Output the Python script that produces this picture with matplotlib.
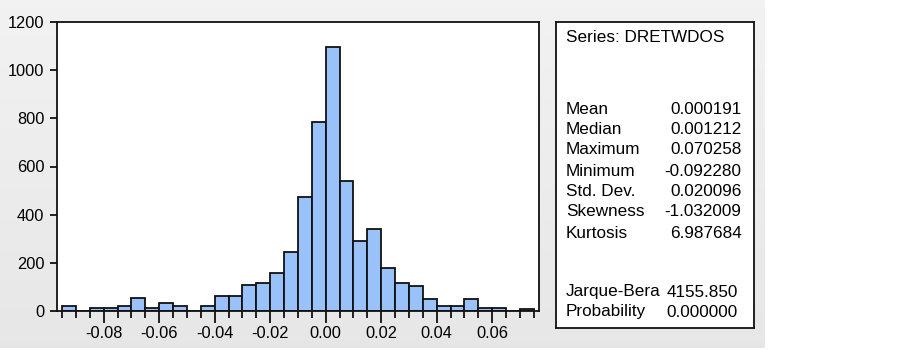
import numpy as np
import matplotlib
matplotlib.use('Agg')
import matplotlib.pyplot as plt

plt.rcParams['font.family'] = ['Liberation Sans', 'DejaVu Sans']

# histogram of DRETWDOS, bin width 0.005
bin_left = [-0.095, -0.090, -0.085, -0.080, -0.075, -0.070, -0.065, -0.060,
            -0.055, -0.050, -0.045, -0.040, -0.035, -0.030, -0.025, -0.020,
            -0.015, -0.010, -0.005, 0.000, 0.005, 0.010, 0.015, 0.020,
            0.025, 0.030, 0.035, 0.040, 0.045, 0.050, 0.055, 0.060,
            0.065, 0.070]
counts = [20, 0, 12, 12, 20, 54, 12, 35,
          20, 0, 20, 62, 62, 108, 115, 156,
          244, 473, 783, 1095, 541, 292, 339, 177,
          116, 104, 48, 22, 22, 48, 14, 14,
          0, 8]
bin_width = 0.005

xticks = [-0.08, -0.06, -0.04, -0.02, 0.00, 0.02, 0.04, 0.06]
yticks = [0, 200, 400, 600, 800, 1000, 1200]

series_name = 'DRETWDOS'
stat_names = ['Mean', 'Median', 'Maximum', 'Minimum', 'Std. Dev.', 'Skewness', 'Kurtosis']
stat_values = ['0.000191', '0.001212', '0.070258', '-0.092280', '0.020096', '-1.032009', '6.987684']
test_names = ['Jarque-Bera', 'Probability']
test_values = ['4155.850', '0.000000']

W, H = 903, 350
fig = plt.figure(figsize=(W / 100, H / 100), dpi=100)
fig.patch.set_facecolor('white')

# gray panel behind the graph
bg = fig.add_axes([0, 0.005, 765 / W, 0.995], zorder=-5)
grad = np.linspace(0.95, 0.905, 200).reshape(-1, 1)
bg.imshow(np.dstack([grad, grad, grad]), aspect='auto', extent=[0, 1, 0, 1], origin='upper')
bg.set_axis_off()

lw = 1.3
ax = fig.add_axes([57.3 / W, 1 - 311 / H, (539.3 - 57.3) / W, (311 - 22) / H])
ax.set_facecolor('white')
ax.bar(bin_left, counts, width=bin_width, align='edge', color='#99c2fb',
       edgecolor='#111111', linewidth=lw)

edges = bin_left + [bin_left[-1] + bin_width]
ax.set_xlim(-0.0967, 0.0770)
ax.set_ylim(0, 1200)
ax.set_xticks(xticks)
ax.set_xticklabels(['%.2f' % v for v in xticks])
ax.set_xticks([e for e in edges if min(abs(e - t) for t in xticks) > 1e-6], minor=True)
ax.set_yticks(yticks)
ax.set_yticklabels([str(v) for v in yticks])

ax.tick_params(axis='x', which='major', length=8.6, width=lw, pad=2,
               labelsize=11.8, color='#111111')
ax.tick_params(axis='x', which='minor', length=4.8, width=lw, color='#111111')
ax.tick_params(axis='y', which='major', length=5.3, width=lw, pad=4,
               labelsize=11.8, color='#111111')
for s in ax.spines.values():
    s.set_linewidth(lw)
    s.set_color('#111111')

# statistics box
sb = fig.add_axes([556 / W, 1 - 328.3 / H, (754.3 - 556) / W, (328.3 - 22) / H])
sb.set_facecolor('white')
sb.set_xticks([])
sb.set_yticks([])
for s in sb.spines.values():
    s.set_linewidth(lw)
    s.set_color('#111111')
sb.set_xlim(556, 754.3)
sb.set_ylim(328.3, 22)

fs = 12.3
sb.text(566, 37, 'Series: ' + series_name, fontsize=fs, va='center', ha='left')
row_y = [109, 129.5, 150, 171, 191, 212, 233]
for y, n, v in zip(row_y, stat_names, stat_values):
    sb.text(566, y, n, fontsize=fs, va='center', ha='left')
    sb.text(741.5, y, v, fontsize=fs, va='center', ha='right')
for y, n, v in zip([291.5, 311.5], test_names, test_values):
    sb.text(566, y, n, fontsize=fs, va='center', ha='left')
    sb.text(738, y + 1, v, fontsize=fs, va='center', ha='right')

fig.savefig('out.png', dpi=100)
